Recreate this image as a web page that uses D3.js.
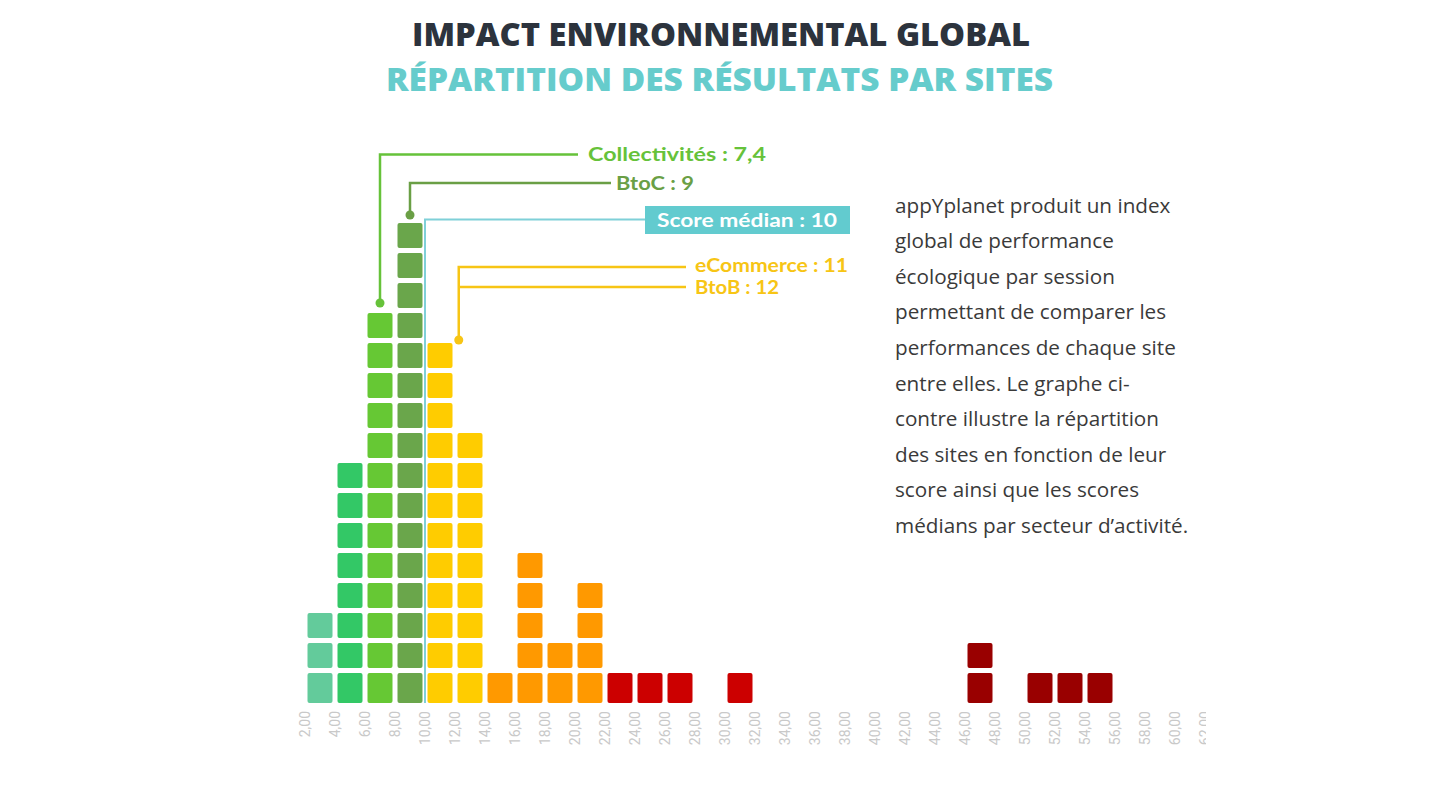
<!DOCTYPE html>
<html>
<head>
<meta charset="utf-8">
<script src="https://cdn.jsdelivr.net/npm/d3@7"></script>
<style>
  html, body { margin: 0; padding: 0; background: #ffffff; }
  svg { display: block; }
</style>
</head>
<body>
<svg id="chart" width="1440" height="810"></svg>
<script>
// ---------- DATA ----------
const titleLines = ["IMPACT ENVIRONNEMENTAL GLOBAL", "RÉPARTITION DES RÉSULTATS PAR SITES"];

// Histogram bins (score start of each 2-point bin) and number of sites
const binStarts = [2, 4, 6, 8, 10, 12, 14, 16, 18, 20, 22, 24, 26, 28, 30, 32, 34, 36, 38, 40, 42, 44, 46, 48, 50, 52, 54, 56, 58, 60];
const binCounts = [3, 8, 13, 16, 12, 9, 1, 5, 2, 4, 1, 1, 1, 0, 1, 0, 0, 0, 0, 0, 0, 0, 2, 0, 1, 1, 1, 0, 0, 0];
const binColors = ["#63cb9b", "#33c866", "#66c834", "#6aa64b", "#ffcc00", "#ffcc00", "#ff9900", "#ff9900", "#ff9900", "#ff9900",
                   "#cc0000", "#cc0000", "#cc0000", "#cc0000", "#cc0000", "#cc0000", "#990000", "#990000", "#990000", "#990000",
                   "#990000", "#990000", "#990000", "#990000", "#990000", "#990000", "#990000", "#990000", "#990000", "#990000"];

// Axis ticks
const tickValues = d3.range(2, 63, 2);
const tickLabels = tickValues.map(v => v.toFixed(2).replace(".", ","));

// Median annotations by sector
const sectorLabels = ["Collectivités : 7,4", "BtoC : 9", "eCommerce : 11", "BtoB : 12"];
const sectorPointers = [7, 9, 12.25, 12.25];     // where the leader line drops (score units)
const sectorColors = ["#66c23a", "#6a9f45", "#f7c515", "#f7c515"];
const medianLabel = "Score médian : 10";
const medianValue = 10;

const paragraphLines = [
  "appYplanet produit un index",
  "global de performance",
  "écologique par session",
  "permettant de comparer les",
  "performances de chaque site",
  "entre elles. Le graphe ci-",
  "contre illustre la répartition",
  "des sites en fonction de leur",
  "score ainsi que les scores",
  "médians par secteur d’activité."
];

// ---------- LAYOUT ----------
const svg = d3.select("#chart");
const x = d3.scaleLinear().domain([2, 62]).range([305, 1205]);
const y = d3.scaleLinear().domain([0, 16]).range([703, 223]);
const gap = 5;

// Title
const titleFont = "'Open Sans', 'Lato', sans-serif";
svg.append("text")
  .attr("x", 412).attr("y", 46)
  .attr("textLength", 618).attr("lengthAdjust", "spacingAndGlyphs")
  .attr("font-family", titleFont).attr("font-weight", 800).attr("font-size", 32)
  .attr("fill", "#2c333d")
  .text(titleLines[0]);
svg.append("text")
  .attr("x", 386).attr("y", 90.5)
  .attr("textLength", 667).attr("lengthAdjust", "spacingAndGlyphs")
  .attr("font-family", titleFont).attr("font-weight", 800).attr("font-size", 32)
  .attr("fill", "#66cccc")
  .text(titleLines[1]);

// Cells
const cells = [];
binStarts.forEach((s, i) => {
  for (let k = 0; k < binCounts[i]; k++) cells.push({ start: s, k: k, color: binColors[i] });
});
svg.append("g").selectAll("rect").data(cells).join("rect")
  .attr("x", d => x(d.start) + gap / 2)
  .attr("width", d => x(d.start + 2) - x(d.start) - gap)
  .attr("y", d => y(d.k + 1))
  .attr("height", d => d.k === 0 ? y(0) - y(1) : y(0) - y(1) - gap)
  .attr("rx", 2)
  .attr("fill", d => d.color);

// Axis labels (rotated)
const clip = svg.append("defs").append("clipPath").attr("id", "axclip");
clip.append("rect").attr("x", 280).attr("y", 700).attr("width", 926).attr("height", 70);
const axis = svg.append("g").attr("clip-path", "url(#axclip)");
axis.selectAll("text").data(tickValues).join("text")
  .attr("transform", d => `translate(${x(d) + 5},711) rotate(-90)`)
  .attr("text-anchor", "end")
  .attr("font-family", "Roboto, 'Open Sans', sans-serif")
  .attr("font-weight", 400)
  .attr("font-size", 14)
  .attr("fill", "#c9c9c9")
  .text((d, i) => tickLabels[i]);

// Median line
const annFont = "'Lato', 'Open Sans', sans-serif";
const mx = x(medianValue);
svg.append("path")
  .attr("d", `M${mx},${y(0)} V219.5 H645`)
  .attr("fill", "none").attr("stroke", "#7fd0d8").attr("stroke-width", 2);
svg.append("rect").attr("x", 645).attr("y", 206).attr("width", 205).attr("height", 28)
  .attr("fill", "#62cbcf");
svg.append("text").attr("x", 657).attr("y", 226.5)
  .attr("textLength", 180).attr("lengthAdjust", "spacingAndGlyphs")
  .attr("font-family", annFont).attr("font-weight", 700).attr("font-size", 19)
  .attr("fill", "#ffffff").text(medianLabel);

// Sector annotations
const annLineY = [154.5, 183, 267, 287];
const annTextY = [161, 189.5, 271.5, 294];
const annLineEnd = [578, 611, 686, 686];
const annTextX = [588, 616, 695, 695];
const annTextW = [178, 78, 153, 84];
const dotY = [303, 215, 340, null];

sectorLabels.forEach((lab, i) => {
  const px = x(sectorPointers[i]);
  const g = svg.append("g");
  const path = dotY[i] !== null
    ? `M${px},${dotY[i]} V${annLineY[i]} H${annLineEnd[i]}`
    : `M${px},${annLineY[i]} H${annLineEnd[i]}`;
  g.append("path").attr("d", path).attr("fill", "none")
    .attr("stroke", sectorColors[i]).attr("stroke-width", 2.5);
  if (dotY[i] !== null) {
    g.append("circle").attr("cx", px).attr("cy", dotY[i]).attr("r", 4.5).attr("fill", sectorColors[i]);
  }
  g.append("text").attr("x", annTextX[i]).attr("y", annTextY[i])
    .attr("textLength", annTextW[i]).attr("lengthAdjust", "spacingAndGlyphs")
    .attr("font-family", annFont).attr("font-weight", 700).attr("font-size", 18)
    .attr("fill", sectorColors[i]).text(lab);
});

// Paragraph
svg.append("g").selectAll("text").data(paragraphLines).join("text")
  .attr("x", 895)
  .attr("y", (d, i) => 212.5 + i * 35.6)
  .attr("font-family", "'Open Sans', sans-serif")
  .attr("font-size", 20.7)
  .attr("fill", "#3a3a3a")
  .text(d => d);
</script>
</body>
</html>
